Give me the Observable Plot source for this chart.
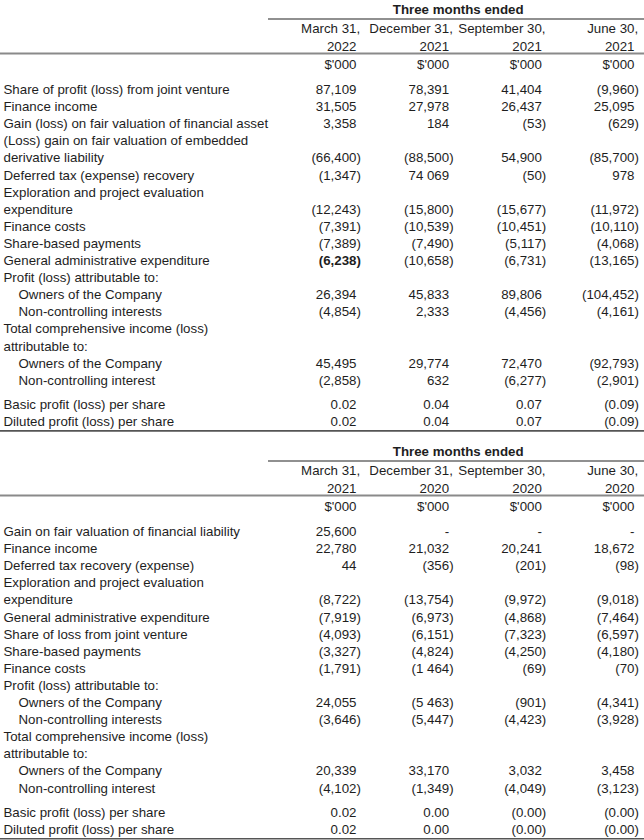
<!DOCTYPE html>
<html>
<head>
<meta charset="utf-8">
<script src="https://cdn.jsdelivr.net/npm/d3@7"></script>
<script src="https://cdn.jsdelivr.net/npm/@observablehq/plot@0.6"></script>
<style>
  html, body { margin: 0; padding: 0; background: #fff; }
  #chart svg { display: block; }
</style>
</head>
<body>
<div id="chart"></div>
<script>
// ---------- DATA ----------
const titleText = "Three months ended";
const unitText = "$'000";

// Table 1 (2021–2022)
const periods1 = ["March 31,", "December 31,", "September 30,", "June 30,"];
const years1 = ["2022", "2021", "2021", "2021"];
const labels1 = [
  "Share of profit (loss) from joint venture",
  "Finance income",
  "Gain (loss) on fair valuation of financial asset",
  "(Loss) gain on fair valuation of embedded",
  "derivative liability",
  "Deferred tax (expense) recovery",
  "Exploration and project evaluation",
  "expenditure",
  "Finance costs",
  "Share-based payments",
  "General administrative expenditure",
  "Profit (loss) attributable to:",
  "Owners of the Company",
  "Non-controlling interests",
  "Total comprehensive income (loss)",
  "attributable to:",
  "Owners of the Company",
  "Non-controlling interest",
  "Basic profit (loss) per share",
  "Diluted profit (loss) per share"
];
const mar2022 = ["87,109","31,505","3,358",null,"(66,400)","(1,347)",null,"(12,243)","(7,391)","(7,389)","(6,238)",null,"26,394","(4,854)",null,null,"45,495","(2,858)","0.02","0.02"];
const dec2021 = ["78,391","27,978","184",null,"(88,500)","74 069",null,"(15,800)","(10,539)","(7,490)","(10,658)",null,"45,833","2,333",null,null,"29,774","632","0.04","0.04"];
const sep2021 = ["41,404","26,437","(53)",null,"54,900","(50)",null,"(15,677)","(10,451)","(5,117)","(6,731)",null,"89,806","(4,456)",null,null,"72,470","(6,277)","0.07","0.07"];
const jun2021 = ["(9,960)","25,095","(629)",null,"(85,700)","978",null,"(11,972)","(10,110)","(4,068)","(13,165)",null,"(104,452)","(4,161)",null,null,"(92,793)","(2,901)","(0.09)","(0.09)"];

// Table 2 (2020–2021)
const periods2 = ["March 31,", "December 31,", "September 30,", "June 30,"];
const years2 = ["2021", "2020", "2020", "2020"];
const labels2 = [
  "Gain on fair valuation of financial liability",
  "Finance income",
  "Deferred tax recovery (expense)",
  "Exploration and project evaluation",
  "expenditure",
  "General administrative expenditure",
  "Share of loss from joint venture",
  "Share-based payments",
  "Finance costs",
  "Profit (loss) attributable to:",
  "Owners of the Company",
  "Non-controlling interests",
  "Total comprehensive income (loss)",
  "attributable to:",
  "Owners of the Company",
  "Non-controlling interest",
  "Basic profit (loss) per share",
  "Diluted profit (loss) per share"
];
const mar2021 = ["25,600","22,780","44",null,"(8,722)","(7,919)","(4,093)","(3,327)","(1,791)",null,"24,055","(3,646)",null,null,"20,339","(4,102)","0.02","0.02"];
const dec2020 = ["-","21,032","(356)",null,"(13,754)","(6,973)","(6,151)","(4,824)","(1 464)",null,"(5 463)","(5,447)",null,null,"33,170","(1,349)","0.00","0.00"];
const sep2020 = ["-","20,241","(201)",null,"(9,972)","(4,868)","(7,323)","(4,250)","(69)",null,"(901)","(4,423)",null,null,"3,032","(4,049)","(0.00)","(0.00)"];
const jun2020 = ["-","18,672","(98)",null,"(9,018)","(7,464)","(6,597)","(4,180)","(70)",null,"(4,341)","(3,928)",null,null,"3,458","(3,123)","(0.00)","(0.00)"];

// ---------- LAYOUT (code, not data) ----------
const W = 644, H = 840;
const FS = 13.3;
const INK = "#1e1e1e";
const colKeys = ["c0", "c1", "c2", "c3"];
const colX = d3.scalePoint().domain(colKeys).range([356, 634]);
const rowStep = 17.1, gapExtra = 7;

const tables = [
  {oy: 0, periods: periods1, years: years1, labels: labels1, cols: [mar2022, dec2021, sep2021, jun2021], bold: [[10, 0]]},
  {oy: 442, periods: periods2, years: years2, labels: labels2, cols: [mar2021, dec2020, sep2020, jun2020], bold: []}
];

const labelRows = [], cells = [], boldCells = [], heads = [], titles = [], thinRules = [], greyRules = [], bottomRules = [];

function split(s) {
  const last = s.slice(-1);
  if (last === ")" || last === ",") return [s.slice(0, -1), last];
  return [s, ""];
}

for (const t of tables) {
  const basicIdx = t.labels.findIndex(l => l.startsWith("Basic"));
  const rowY = i => t.oy + 93.5 + i * rowStep + (i >= basicIdx ? gapExtra : 0);
  titles.push({x: colX("c1") + 9, y: t.oy + 13.5, text: titleText});
  thinRules.push({x1: 268, x2: W, y: t.oy + 18.5});
  greyRules.push({x1: 0, x2: W, y: t.oy + 53});
  t.periods.forEach((p, c) => {
    const [m, tail] = split(p);
    heads.push({x: colX(colKeys[c]), y: t.oy + 32, main: m, tail});
    heads.push({x: colX(colKeys[c]), y: t.oy + 50, main: t.years[c], tail: ""});
    heads.push({x: colX(colKeys[c]), y: t.oy + 68.5, main: unitText, tail: ""});
  });
  t.labels.forEach((l, i) => {
    const indent = l.startsWith("Owners") || l.startsWith("Non-controlling");
    labelRows.push({x: indent ? 18 : 3, y: rowY(i), text: l});
  });
  t.cols.forEach((vals, c) => {
    vals.forEach((v, i) => {
      if (v == null) return;
      const [m, tail] = split(v);
      const d = {x: colX(colKeys[c]), y: rowY(i), main: m, tail};
      if (t.bold.some(([r, cc]) => r === i && cc === c)) boldCells.push(d); else cells.push(d);
    });
  });
  bottomRules.push({x1: 0, x2: W, y: rowY(t.labels.length - 1) + 5});
}

const textOpts = {x: "x", y: "y", lineAnchor: "bottom", fill: INK, fontSize: FS};

const chart = Plot.plot({
  width: W,
  height: H,
  margin: 0,
  x: {domain: [0, W], range: [0, W], axis: null},
  y: {domain: [0, H], range: [0, H], axis: null},
  style: {fontFamily: "'Liberation Sans', Arial, Helvetica, sans-serif", fontSize: FS + "px", background: "#fff", color: INK},
  marks: [
    Plot.ruleY(thinRules, {x1: "x1", x2: "x2", y: "y", stroke: "#222", strokeWidth: 1.2}),
    Plot.ruleY(greyRules, {x1: "x1", x2: "x2", y: "y", stroke: "#8a8a8a", strokeWidth: 2}),
    Plot.ruleY(bottomRules, {x1: "x1", x2: "x2", y: "y", stroke: "#555", strokeWidth: 1.6}),
    Plot.text(titles, {...textOpts, text: "text", textAnchor: "middle", fontWeight: "bold"}),
    Plot.text(heads, {...textOpts, text: "main", textAnchor: "end"}),
    Plot.text(heads, {...textOpts, text: "tail", textAnchor: "start"}),
    Plot.text(labelRows, {...textOpts, text: "text", textAnchor: "start"}),
    Plot.text(cells, {...textOpts, text: "main", textAnchor: "end"}),
    Plot.text(cells, {...textOpts, text: "tail", textAnchor: "start"}),
    Plot.text(boldCells, {...textOpts, text: "main", textAnchor: "end", fontWeight: "bold"}),
    Plot.text(boldCells, {...textOpts, text: "tail", textAnchor: "start", fontWeight: "bold"})
  ]
});
document.getElementById("chart").appendChild(chart);
</script>
</body>
</html>
